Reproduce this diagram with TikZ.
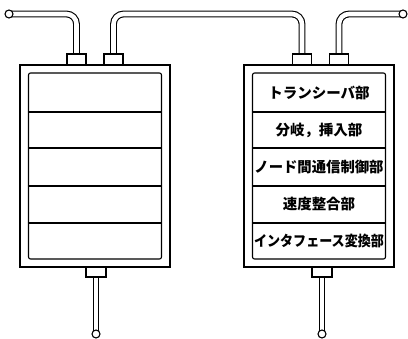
\documentclass[tikz,border=0pt]{standalone}
\usepackage{fontspec}
\newfontfamily\cjk{Noto Sans CJK JP}
\usetikzlibrary{backgrounds}
\begin{document}
\begin{tikzpicture}[x=1pt,y=-1pt,line width=1.1pt,
  box/.style={draw,fill=white,minimum width=150pt,minimum height=202pt,inner sep=0pt},
  panel/.style={draw,rounded corners=2pt,minimum width=133pt,minimum height=186pt,inner sep=0pt},
  blk/.style={draw,fill=white,minimum width=19pt,minimum height=11pt,inner sep=0pt},
  blkb/.style={draw,fill=white,minimum width=20pt,minimum height=10pt,inner sep=0pt},
  endcap/.style={circle,draw,fill=white,minimum size=8pt,inner sep=0pt},
  pipe/.style={double,double distance=4.6pt,line width=1.1pt,rounded corners=10pt},
  lbl/.style={font=\cjk\bfseries\fontsize{14.5}{14.5}\selectfont,inner sep=0pt}]
\useasboundingbox (0,0) rectangle (408,339);
% boxes
\node[box] (oL) at (95,166) {};
\node[panel] (pL) at (95,166) {};
\node[box] (oR) at (319,166) {};
\node[panel] (pR) at (319,166) {};
\foreach \yy in {112,148,186,223}{
  \draw (pL.west |- 0,\yy) -- (pL.east |- 0,\yy);
  \draw (pR.west |- 0,\yy) -- (pR.east |- 0,\yy);
}
% labels
\node[lbl] (t1) at (319,93) {トランシーバ部};
\node[lbl] (t2) at (319,130) {分岐，挿入部};
\node[lbl] (t3) at (319,167) {\scalebox{0.99}[1]{ノード間通信制御部}};
\node[lbl] (t4) at (319,204.5) {速度整合部};
\node[lbl] (t5) at (319,241) {\scalebox{0.9}[1]{インタフェース変換部}};
% connector blocks
\node[blk] (bA) at (76.5,59.5) {};
\node[blk] (bB) at (113.5,59.5) {};
\node[blk] (bC) at (302,59.5) {};
\node[blk] (bD) at (339,59.5) {};
\node[blkb] (bE) at (96,272) {};
\node[blkb] (bF) at (322,272) {};
% end caps
\node[endcap] (cNW) at (9,14) {};
\node[endcap] (cNE) at (403,14) {};
\node[endcap] (cSW) at (96,334) {};
\node[endcap] (cSE) at (322,334) {};
\coordinate (topline) at (0,14);
% pipes
\begin{scope}[on background layer]
\draw[pipe] (bA.north) |- (cNW.center);
\draw[pipe] (bB.north) |- (bC.north |- topline) -- (bC.north);
\draw[pipe] (bD.north) |- (cNE.center);
\draw[pipe] (bE.south) -- (cSW.center);
\draw[pipe] (bF.south) -- (cSE.center);
\end{scope}
\end{tikzpicture}
\end{document}
